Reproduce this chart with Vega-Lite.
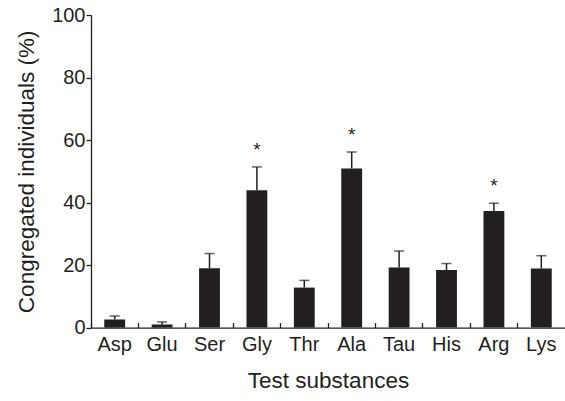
{
  "$schema": "https://vega.github.io/schema/vega-lite/v6.json",
  "width": 474,
  "height": 312.6,
  "autosize": "none",
  "padding": {"left": 91, "top": 15, "right": 0, "bottom": 73.4},
  "background": "white",
  "config": {
    "view": {"stroke": null},
    "font": "Liberation Sans",
    "axis": {
      "domainColor": "#231f20",
      "domainWidth": 1.3,
      "tickColor": "#231f20",
      "tickWidth": 1.3,
      "labelColor": "#231f20",
      "titleColor": "#231f20",
      "labelFont": "Liberation Sans",
      "titleFont": "Liberation Sans",
      "labelFontSize": 20,
      "titleFontSize": 22.5,
      "titleFontWeight": "normal",
      "grid": false
    }
  },
  "data": {
    "values": [
      {"substance": "Asp", "mean": 2.6, "upper": 3.7, "sig": false},
      {"substance": "Glu", "mean": 1.0, "upper": 1.8, "sig": false},
      {"substance": "Ser", "mean": 19.0, "upper": 23.7, "sig": false},
      {"substance": "Gly", "mean": 43.9, "upper": 51.4, "sig": true},
      {"substance": "Thr", "mean": 12.8, "upper": 15.1, "sig": false},
      {"substance": "Ala", "mean": 50.9, "upper": 56.2, "sig": true},
      {"substance": "Tau", "mean": 19.2, "upper": 24.5, "sig": false},
      {"substance": "His", "mean": 18.4, "upper": 20.5, "sig": false},
      {"substance": "Arg", "mean": 37.3, "upper": 39.8, "sig": true},
      {"substance": "Lys", "mean": 18.9, "upper": 23.0, "sig": false}
    ]
  },
  "encoding": {
    "x": {
      "field": "substance",
      "type": "nominal",
      "sort": null,
      "scale": {"paddingInner": 0.56, "paddingOuter": 0.28},
      "axis": {
        "title": "Test substances",
        "labelAngle": 0,
        "bandPosition": -0.636,
        "tickSize": -5,
        "labelPadding": 12,
        "titlePadding": 15
      }
    }
  },
  "layer": [
    {
      "mark": {"type": "bar", "color": "#231f20"},
      "encoding": {
        "y": {
          "field": "mean",
          "type": "quantitative",
          "scale": {"domain": [0, 100], "nice": false},
          "axis": {
            "title": "Congregated individuals (%)",
            "values": [0, 20, 40, 60, 80, 100],
            "tickSize": 5,
            "labelPadding": 1,
            "titlePadding": 13
          }
        }
      }
    },
    {
      "mark": {"type": "rule", "color": "#231f20", "strokeWidth": 1.5},
      "encoding": {
        "y": {"field": "mean", "type": "quantitative"},
        "y2": {"field": "upper"}
      }
    },
    {
      "mark": {"type": "tick", "color": "#231f20", "size": 10, "thickness": 1.5},
      "encoding": {
        "y": {"field": "upper", "type": "quantitative"}
      }
    },
    {
      "transform": [{"filter": "datum.sig"}],
      "mark": {"type": "text", "text": "*", "fontSize": 19, "font": "Liberation Sans", "color": "#231f20", "baseline": "alphabetic", "dy": -11},
      "encoding": {
        "y": {"field": "upper", "type": "quantitative"}
      }
    }
  ]
}
